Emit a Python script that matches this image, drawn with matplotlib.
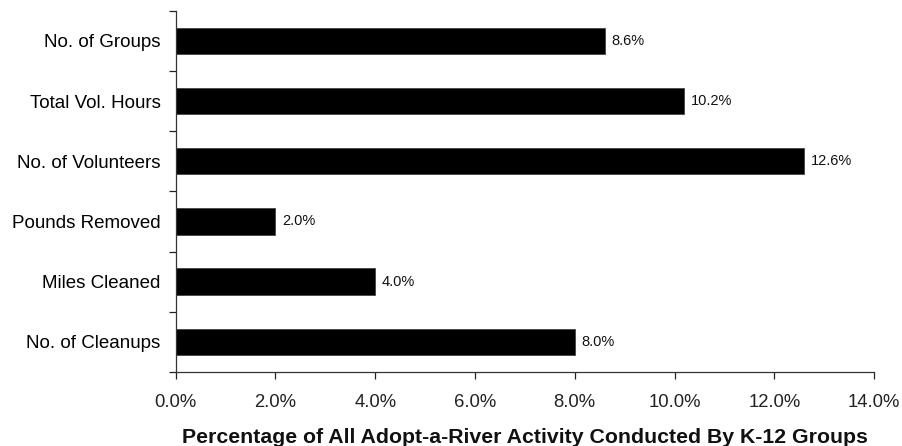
import matplotlib
matplotlib.use("Agg")
import matplotlib.pyplot as plt
import numpy as np

# Share of Adopt-a-River activity conducted by K-12 groups (bottom to top)
categories = ["No. of Cleanups", "Miles Cleaned", "Pounds Removed",
              "No. of Volunteers", "Total Vol. Hours", "No. of Groups"]
values = [8.0, 4.0, 2.0, 12.6, 10.2, 8.6]
value_labels = ["8.0%", "4.0%", "2.0%", "12.6%", "10.2%", "8.6%"]
x_ticks = [0, 2, 4, 6, 8, 10, 12, 14]
x_tick_labels = ["0.0%", "2.0%", "4.0%", "6.0%", "8.0%", "10.0%", "12.0%", "14.0%"]
x_title = "Percentage of All Adopt-a-River Activity Conducted By K-12 Groups"

plt.rcParams["font.family"] = ["Liberation Sans", "DejaVu Sans"]

fig = plt.figure(figsize=(9.03, 4.46), dpi=100)
ax = fig.add_axes([0.1946, 0.166, 0.9679 - 0.1946, 0.976 - 0.166])

y = np.arange(len(categories))
ax.barh(y, values, height=0.44, color="black", edgecolor="#444444", linewidth=0.6)

for yi, v, lab in zip(y, values, value_labels):
    ax.text(v + 0.13, yi, lab, va="center", ha="left", fontsize=10.5, color="#111111")

ax.set_xlim(0, 14)
ax.set_ylim(-0.5, len(categories) - 0.5)

ax.set_xticks(x_ticks)
ax.set_xticklabels(x_tick_labels, fontsize=13.3)
ax.tick_params(axis="x", length=5, width=0.9, pad=11, colors="#222222")

# boundary ticks on the y axis, category names centred between them
ax.set_yticks(np.arange(-0.5, len(categories), 1.0))
ax.set_yticklabels([])
ax.set_yticks(y, minor=True)
ax.set_yticklabels(categories, minor=True, fontsize=13.5)
ax.tick_params(axis="y", which="major", length=5, width=0.9, color="#222222")
ax.tick_params(axis="y", which="minor", length=0, pad=11)

for side in ("top", "right"):
    ax.spines[side].set_visible(False)
for side in ("left", "bottom"):
    ax.spines[side].set_color("#333333")
    ax.spines[side].set_linewidth(0.9)

# axis title centred under the plot area
fig.text(525 / 903, 1 - 443 / 446, x_title, ha="center", va="baseline",
         fontsize=15.3, fontweight="bold", color="#111111")

fig.savefig("out.png", dpi=100)
